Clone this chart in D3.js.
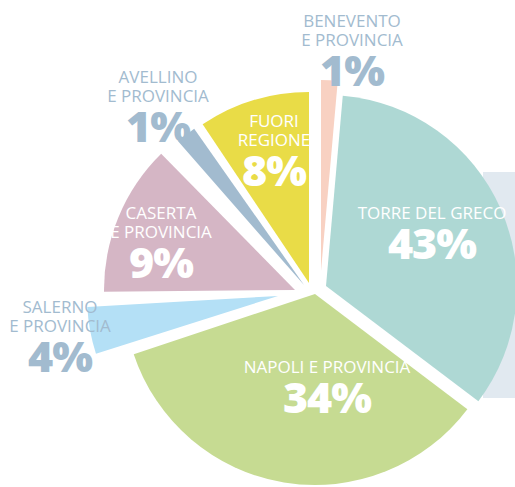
<!DOCTYPE html>
<html>
<head>
<meta charset="utf-8">
<script src="https://cdn.jsdelivr.net/npm/d3@7"></script>
<style>
  body { margin: 0; background: #fff; }
  svg { display: block; }
</style>
</head>
<body>
<div class="canvas"></div>
<script>
// slices, clockwise from 12 o'clock
const categories = ['BENEVENTO E PROVINCIA', 'TORRE DEL GRECO', 'NAPOLI E PROVINCIA', 'SALERNO E PROVINCIA', 'CASERTA E PROVINCIA', 'AVELLINO E PROVINCIA', 'FUORI REGIONE'];
const percents = [1, 43, 34, 4, 9, 1, 8];
// share of the circle each slice really covers in the picture
// (the original drawing does not follow the printed percentages)
const drawnShare = [1.4, 33.9, 34.6, 4.4, 13.9, 2.4, 9.4];
const labelLines = [
    ['BENEVENTO', 'E PROVINCIA'],
    ['TORRE DEL GRECO'],
    ['NAPOLI E PROVINCIA'],
    ['SALERNO', 'E PROVINCIA'],
    ['CASERTA', 'E PROVINCIA'],
    ['AVELLINO', 'E PROVINCIA'],
    ['FUORI', 'REGIONE']
];

const width = 515, height = 487;
const radius = 191;
const center = {x: 312, y: 286};
const outerText = '#a2bbcf';

// look of each slice: colour, explode shift, extra gap (deg), label anchor
const style = {
    'BENEVENTO E PROVINCIA': {color: '#f8d1c2', shift: [9, -15], pad: 0, label: [352, 27], text: outerText},
    'TORRE DEL GRECO': {color: '#aed8d4', shift: [14, 0], pad: 0, label: [432, 219], text: '#fff'},
    'NAPOLI E PROVINCIA': {color: '#c6db92', shift: [3, 8], pad: 0, label: [327, 373], text: '#fff'},
    'SALERNO E PROVINCIA': {color: '#b4e0f6', shift: [-34, 10], pad: 1.5, label: [60, 313], text: outerText},
    'CASERTA E PROVINCIA': {color: '#d5b6c5', shift: [-17, 4], pad: 4, label: [161, 219], text: '#fff'},
    'AVELLINO E PROVINCIA': {color: '#a2bbcf', shift: [-8, -1], pad: 2.5, label: [158, 83], text: outerText},
    'FUORI REGIONE': {color: '#e9dc47', shift: [-3, -3], pad: 0, label: [274, 127], text: '#fff'}
};

const svg = d3.select('.canvas')
    .append('svg')
    .attr('width', width)
    .attr('height', height);

// pale panel peeking out behind the big slice
svg.append('rect')
    .attr('x', 483)
    .attr('y', 172)
    .attr('width', 40)
    .attr('height', 226)
    .attr('fill', '#e1e9f0');

const data = categories.map((name, i) => ({
    name: name,
    pct: percents[i],
    share: drawnShare[i],
    lines: labelLines[i]
}));

const pie = d3.pie()
    .sort(null)
    .value(d => d.share);

const arcPath = d3.arc()
    .innerRadius(0)
    .outerRadius(radius)
    .padAngle(d => style[d.data.name].pad * Math.PI / 180);

const graph = svg.append('g')
    .attr('transform', `translate(${center.x},${center.y})`);

graph.selectAll('path')
    .data(pie(data))
    .enter()
    .append('path')
    .attr('d', arcPath)
    .attr('fill', d => style[d.data.name].color)
    .attr('transform', d => `translate(${style[d.data.name].shift})`);

// labels: one text per slice, lines as tspans
const labels = svg.selectAll('text.label')
    .data(data)
    .enter()
    .append('text')
    .attr('class', 'label')
    .attr('transform', d => `translate(${style[d.name].label})`)
    .attr('fill', d => style[d.name].text)
    .attr('text-anchor', 'middle')
    .attr('font-family', '"Open Sans", sans-serif');

labels.each(function(d) {
    const t = d3.select(this);
    d.lines.forEach((line, i) => {
        t.append('tspan')
            .attr('x', 0)
            .attr('y', i * 19)
            .attr('font-size', 17)
            .text(line);
    });
    t.append('tspan')
        .attr('x', 0)
        .attr('y', (d.lines.length - 1) * 19 + 40)
        .attr('font-weight', 800)
        .attr('font-size', 43)
        .attr('letter-spacing', -1)
        .text(d.pct + '%');
});
</script>
</body>
</html>
